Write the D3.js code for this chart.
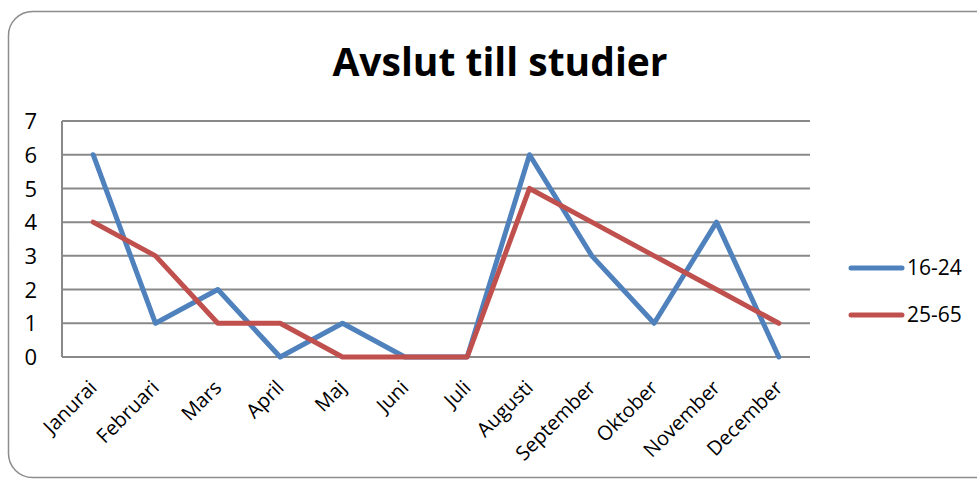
<!DOCTYPE html>
<html>
<head>
<meta charset="utf-8">
<script src="https://cdn.jsdelivr.net/npm/d3@7"></script>
<style>
	body { margin: 0; background: #fff; }
	text { font-family: "Open Sans", "DejaVu Sans", sans-serif; fill: #000; }
</style>
</head>
<body>
<div id="chart"></div>
<script>
'use strict';

const months = ['Janurai', 'Februari', 'Mars', 'April', 'Maj', 'Juni', 'Juli', 'Augusti', 'September', 'Oktober', 'November', 'December'];
const series1624 = [6, 1, 2, 0, 1, 0, 0, 6, 3, 1, 4, 0];
const series2565 = [4, 3, 1, 1, 0, 0, 0, 5, 4, 3, 2, 1];
const yTicks = [0, 1, 2, 3, 4, 5, 6, 7];

const series = [
	{ name: '16-24', values: series1624, color: '#4F81BD' },
	{ name: '25-65', values: series2565, color: '#C0504D' }
];

const width = 977, height = 481;
const margin = { top: 121, left: 62, right: 167, bottom: 124 };

const svg = d3.select('#chart').append('svg')
	.attr('width', width)
	.attr('height', height);

// frame round the chart
svg.append('rect')
	.attr('x', 8.5).attr('y', 11.5)
	.attr('width', 1000).attr('height', 466)
	.attr('rx', 24).attr('ry', 24)
	.attr('fill', 'none')
	.attr('stroke', '#8c8c8c')
	.attr('stroke-width', 1.5);

svg.append('text')
	.attr('x', 500).attr('y', 76)
	.attr('text-anchor', 'middle')
	.style('font-size', '39px')
	.style('font-weight', 'bold')
	.text('Avslut till studier');

const x = d3.scaleBand()
	.domain(months)
	.range([margin.left, width - margin.right]);

const y = d3.scaleLinear()
	.domain([0, 7])
	.range([height - margin.bottom, margin.top]);

// gridlines
svg.append('g')
	.selectAll('line')
	.data(yTicks)
	.join('line')
	.attr('x1', margin.left).attr('x2', width - margin.right)
	.attr('y1', d => y(d)).attr('y2', d => y(d))
	.attr('stroke', '#898989')
	.attr('stroke-width', 2);

svg.append('line')
	.attr('x1', margin.left).attr('x2', margin.left)
	.attr('y1', y(7)).attr('y2', y(0))
	.attr('stroke', '#898989')
	.attr('stroke-width', 2);

// y labels
const yAxis = d3.axisLeft(y).tickValues(yTicks).tickFormat(d3.format('d')).tickSize(0).tickPadding(25);
svg.append('g')
	.attr('transform', 'translate(' + margin.left + ',0)')
	.call(yAxis)
	.call(g => g.select('.domain').remove())
	.selectAll('text')
	.style('font-size', '22px')
	.attr('dy', '0.35em');

// x labels
const xAxis = d3.axisBottom(x).tickSize(0);
svg.append('g')
	.attr('transform', 'translate(0,' + y(0) + ')')
	.call(xAxis)
	.call(g => g.select('.domain').remove())
	.selectAll('text')
	.style('font-size', '20px')
	.style('text-anchor', 'end')
	.attr('transform', 'translate(-5,22) rotate(-45)')
	.attr('dy', '0.7em')
	.attr('y', 0);

const line = d3.line()
	.x((d, i) => x(months[i]) + x.bandwidth() / 2)
	.y(d => y(d));

svg.append('g')
	.selectAll('path')
	.data(series)
	.join('path')
	.attr('d', d => line(d.values))
	.attr('fill', 'none')
	.attr('stroke', d => d.color)
	.attr('stroke-width', 5)
	.attr('stroke-linejoin', 'round')
	.attr('stroke-linecap', 'round');

// legend
const legend = svg.append('g')
	.selectAll('g')
	.data(series)
	.join('g')
	.attr('transform', (d, i) => 'translate(851,' + (268 + i * 47) + ')');

legend.append('line')
	.attr('x1', 0).attr('x2', 51)
	.attr('stroke', d => d.color)
	.attr('stroke-width', 5)
	.attr('stroke-linecap', 'round');

legend.append('text')
	.attr('x', 56)
	.attr('dy', '0.35em')
	.style('font-size', '21px')
	.text(d => d.name);
</script>
</body>
</html>
